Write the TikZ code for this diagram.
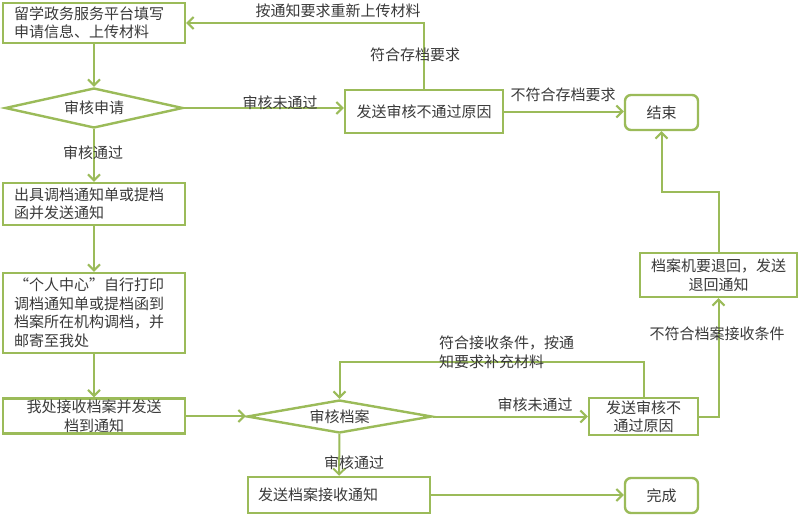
\documentclass[tikz,border=0pt]{standalone}
\usepackage{fontspec}
\setmainfont{Noto Sans CJK SC}
\usetikzlibrary{shapes.geometric,arrows.meta}
\definecolor{gr}{HTML}{9BBB59}
\definecolor{tx}{HTML}{3A3A3A}
\tikzset{
  base/.style={draw=gr, line width=2.4pt, fill=white, text=tx, font=\fontsize{15pt}{18.5pt}\selectfont, inner sep=0pt},
  proc/.style={base, rectangle},
  lproc/.style={base, rectangle, align=left, inner xsep=11pt},
  term/.style={base, rectangle, rounded corners=6pt},
  dia/.style={base, diamond, aspect=5},
  conn/.style={draw=gr, line width=2pt, -{Straight Barb[length=6pt,width=12pt]}},
  lab/.style={text=tx, font=\fontsize{15pt}{19pt}\selectfont, inner sep=0pt}
}
\begin{document}
\begin{tikzpicture}[x=1pt,y=-1pt]
\useasboundingbox (0,0) rectangle (800,515);
\fill[white] (0,0) rectangle (800,515);

% nodes
\node[lproc, minimum width=182pt, minimum height=40pt, text width=160pt] (A) at (94,23) {留学政务服务平台填写\\申请信息、上传材料};
\node[dia, minimum width=178pt, minimum height=40pt] (B) at (94,108) {审核申请};
\node[proc, minimum width=158pt, minimum height=43pt] (C) at (424,111.5) {发送审核不通过原因};
\node[term, minimum width=73pt, minimum height=35pt] (End) at (661.5,112.5) {结束};
\node[lproc, minimum width=182pt, minimum height=42pt, text width=160pt] (D) at (94,204) {出具调档通知单或提档\\函并发送通知};
\node[lproc, minimum width=182pt, minimum height=80pt, text width=160pt] (E) at (94,313) {“个人中心”自行打印\\调档通知单或提档函到\\档案所在机构调档，并\\邮寄至我处};
\node[proc, align=center, minimum width=182pt, minimum height=35pt] (F) at (94,416) {我处接收档案并发送\\档到通知};
\node[dia, minimum width=185pt, minimum height=33pt] (G) at (339.5,416.5) {审核档案};
\node[proc, align=center, minimum width=109pt, minimum height=37pt] (H) at (643.5,416.5) {发送审核不\\通过原因};
\node[proc, align=center, minimum width=157pt, minimum height=44pt] (I) at (718.5,275) {档案机要退回，发送\\退回通知};
\node[lproc, minimum width=182pt, minimum height=36pt, text width=162pt, inner xsep=10pt] (J) at (339,495) {发送档案接收通知};
\node[term, minimum width=73pt, minimum height=35pt] (Done) at (661.5,495.5) {完成};

\coordinate (hl) at (500,362);
\coordinate (il) at (690,192);

% connectors
\draw[conn] (A) -- (B);
\draw[conn] (B.east) -- (B.east -| C.west);
\draw[conn] (C.north) |- (A.east);
\draw[conn] (C.east) -- (C.east -| End.west);
\draw[conn] (B) -- (D);
\draw[conn] (D) -- (E);
\draw[conn] (E) -- (F);
\draw[conn] (F.east) -- (F.east -| G.west);
\draw[conn] (G.east) -- (G.east -| H.west);
\draw[conn] (H.north) |- (hl) -| (G.north);
\draw[conn] (H.east) -| (I.south);
\draw[conn] (I.north) |- (il) -| (End.south);
\draw[conn] (G) -- (J);
\draw[conn] (J.east) -- (J.east -| Done.west);

% labels
\node[lab] (l1) at (280,103) {审核未通过};
\node[lab] (l2) at (338,11) {按通知要求重新上传材料};
\node[lab] (l3) at (415,55) {符合存档要求};
\node[lab] (l4) at (563,95) {不符合存档要求};
\node[lab] (l5) at (93,153) {审核通过};
\node[lab, align=left, anchor=west] (l6) at (439,352) {符合接收条件，按通\\知要求补充材料};
\node[lab] (l7) at (535,405) {审核未通过};
\node[lab] (l8) at (717,334) {不符合档案接收条件};
\node[lab] (l9) at (354,463) {审核通过};
\end{tikzpicture}
\end{document}
